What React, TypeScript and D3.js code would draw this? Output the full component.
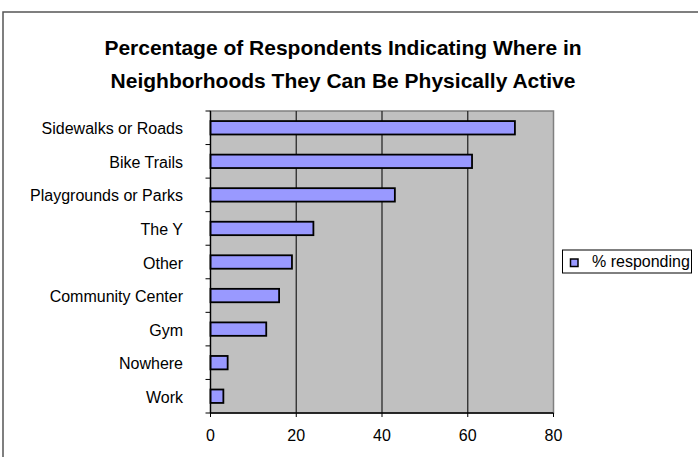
import React from "react";
import * as d3 from "d3";

// Places people say they can be physically active, and the share responding
const categories = [
  "Sidewalks or Roads",
  "Bike Trails",
  "Playgrounds or Parks",
  "The Y",
  "Other",
  "Community Center",
  "Gym",
  "Nowhere",
  "Work",
];
const responding = [71, 61, 43, 24, 19, 16, 13, 4, 3];
const xTicks = [0, 20, 40, 60, 80];
const titleLines = [
  "Percentage of Respondents Indicating Where in",
  "Neighborhoods They Can Be Physically Active",
];
const seriesName = "% responding";

const W = 698;
const H = 457;
const FONT = "'Liberation Sans', Arial, Helvetica, sans-serif";
const BAR_FILL = "#9999FF";

export default function App() {
  const plot = { left: 210.5, right: 553.5, top: 111, bottom: 413 };

  const x = d3.scaleLinear().domain([0, 80]).range([plot.left, plot.right]);
  const y = d3
    .scaleBand<string>()
    .domain(categories)
    .range([plot.top, plot.bottom])
    .paddingInner(0.6)
    .paddingOuter(0.3);

  const step = y.step();
  const boundaries = d3.range(categories.length + 1).map((i) => plot.top + i * step);

  return (
    <svg
      width={W}
      height={H}
      viewBox={`0 0 ${W} ${H}`}
      style={{ position: "absolute", left: 0, top: 0, background: "#fff" }}
      fontFamily={FONT}
    >
      {/* chart frame */}
      <rect x={3} y={12} width={W + 20} height={H + 20} fill="#fff" stroke="#555" strokeWidth={1.5} />

      {/* title */}
      {titleLines.map((t, i) => (
        <text
          key={t}
          x={343}
          y={55 + i * 33}
          textAnchor="middle"
          fontSize={21}
          fontWeight="bold"
          fill="#000"
        >
          {t}
        </text>
      ))}

      {/* plot area */}
      <rect
        x={plot.left}
        y={plot.top}
        width={plot.right - plot.left}
        height={plot.bottom - plot.top}
        fill="#C0C0C0"
        stroke="#808080"
        strokeWidth={1.5}
      />

      {/* vertical gridlines */}
      {xTicks.slice(1, -1).map((t) => (
        <line key={t} x1={x(t)} x2={x(t)} y1={plot.top} y2={plot.bottom} stroke="#2a2a2a" strokeWidth={1.3} />
      ))}

      {/* bars */}
      {categories.map((c, i) => (
        <rect
          key={c}
          x={x(0)}
          y={y(c)!}
          width={x(responding[i]) - x(0)}
          height={y.bandwidth()}
          fill={BAR_FILL}
          stroke="#000"
          strokeWidth={1.8}
        />
      ))}

      {/* category axis */}
      <line x1={plot.left} x2={plot.left} y1={plot.top} y2={plot.bottom} stroke="#000" strokeWidth={1.3} />
      {boundaries.map((b, i) => (
        <line key={i} x1={plot.left - 5} x2={plot.left} y1={b} y2={b} stroke="#000" strokeWidth={1} />
      ))}
      {categories.map((c) => (
        <text
          key={c}
          x={183}
          y={y(c)! + y.bandwidth() / 2 + 6.5}
          textAnchor="end"
          fontSize={16}
          fill="#000"
        >
          {c}
        </text>
      ))}

      {/* value axis */}
      <line x1={plot.left} x2={plot.right} y1={plot.bottom} y2={plot.bottom} stroke="#000" strokeWidth={1.3} />
      {xTicks.map((t) => (
        <g key={t}>
          <line x1={x(t)} x2={x(t)} y1={plot.bottom} y2={plot.bottom + 4} stroke="#000" strokeWidth={1} />
          <text x={x(t)} y={441} textAnchor="middle" fontSize={16} fill="#000">
            {t}
          </text>
        </g>
      ))}

      {/* legend */}
      <rect x={562.5} y={250} width={129} height={23} fill="#fff" stroke="#000" strokeWidth={1} />
      <rect x={570.5} y={259} width={7.5} height={7.5} fill={BAR_FILL} stroke="#000" strokeWidth={1.5} />
      <text x={592} y={266.5} fontSize={16} fill="#000">
        {seriesName}
      </text>
    </svg>
  );
}
